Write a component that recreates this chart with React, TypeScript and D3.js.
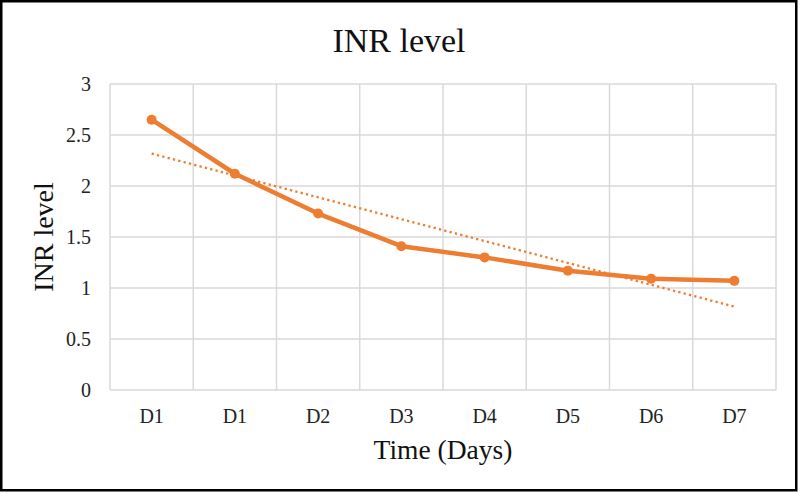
import React, { useRef, useEffect } from "react";
import * as d3 from "d3";

const days = ["D1", "D1", "D2", "D3", "D4", "D5", "D6", "D7"];
const inrValues = [2.65, 2.12, 1.73, 1.41, 1.3, 1.17, 1.09, 1.07];
const yTicks = [0, 0.5, 1, 1.5, 2, 2.5, 3];

const App = () => {
  const chartRef = useRef<HTMLDivElement>(null);

  useEffect(() => {
    const width = 800;
    const height = 493;
    const margin = { top: 84, right: 24, bottom: 103, left: 110 };
    const innerW = width - margin.left - margin.right;
    const innerH = height - margin.top - margin.bottom;
    const font = '"Liberation Serif", "Times New Roman", serif';

    const svg = d3
      .select(chartRef.current)
      .append("svg")
      .attr("width", width)
      .attr("height", height)
      .style("position", "absolute")
      .style("left", "0px")
      .style("top", "0px")
      .style("background", "#fff");

    // outer frame
    svg
      .append("rect")
      .attr("x", 1.25)
      .attr("y", 1.25)
      .attr("width", 795)
      .attr("height", 489)
      .attr("fill", "#fff")
      .attr("stroke", "#000")
      .attr("stroke-width", 2.5);

    const g = svg
      .append("g")
      .attr("transform", `translate(${margin.left},${margin.top})`);

    const x = d3
      .scaleBand<number>()
      .domain(days.map((_, i) => i))
      .range([0, innerW]);

    const y = d3.scaleLinear().domain([0, 3]).range([innerH, 0]);

    // horizontal grid
    g.selectAll(".hgrid")
      .data(yTicks)
      .enter()
      .append("line")
      .attr("x1", 0)
      .attr("x2", innerW)
      .attr("y1", (d) => y(d))
      .attr("y2", (d) => y(d))
      .attr("stroke", "#d9d9d9")
      .attr("stroke-width", 1.5);

    // vertical grid (category boundaries)
    const bounds = d3.range(days.length + 1).map((i) => i * x.step());
    g.selectAll(".vgrid")
      .data(bounds)
      .enter()
      .append("line")
      .attr("x1", (d) => d)
      .attr("x2", (d) => d)
      .attr("y1", 0)
      .attr("y2", innerH)
      .attr("stroke", "#d9d9d9")
      .attr("stroke-width", 1.5);

    // y tick labels
    g.selectAll(".ylab")
      .data(yTicks)
      .enter()
      .append("text")
      .attr("x", -19)
      .attr("y", (d) => y(d))
      .attr("dy", "0.35em")
      .attr("text-anchor", "end")
      .style("font-family", font)
      .style("font-size", "20px")
      .attr("fill", "#222")
      .text((d) => d);

    // x tick labels
    g.selectAll(".xlab")
      .data(days)
      .enter()
      .append("text")
      .attr("x", (_, i) => x(i)! + x.bandwidth() / 2)
      .attr("y", innerH + 33)
      .attr("text-anchor", "middle")
      .style("font-family", font)
      .style("font-size", "20px")
      .attr("fill", "#222")
      .text((d) => d);

    const cx = (i: number) => x(i)! + x.bandwidth() / 2;

    // linear trendline (least squares over category index)
    const n = inrValues.length;
    const xs = d3.range(n);
    const mx = d3.mean(xs)!;
    const my = d3.mean(inrValues)!;
    const slope =
      d3.sum(xs, (i) => (i - mx) * (inrValues[i] - my)) /
      d3.sum(xs, (i) => (i - mx) * (i - mx));
    const icpt = my - slope * mx;
    const trend = [0, n - 1].map((i) => ({ i, v: icpt + slope * i }));

    g.append("path")
      .datum(trend)
      .attr(
        "d",
        d3
          .line<{ i: number; v: number }>()
          .x((d) => cx(d.i))
          .y((d) => y(d.v))
      )
      .attr("fill", "none")
      .attr("stroke", "#ed7d31")
      .attr("stroke-width", 2.3)
      .attr("stroke-dasharray", "2.3,3.2");

    // main line
    g.append("path")
      .datum(inrValues)
      .attr(
        "d",
        d3
          .line<number>()
          .x((_, i) => cx(i))
          .y((d) => y(d))
      )
      .attr("fill", "none")
      .attr("stroke", "#ed7d31")
      .attr("stroke-width", 4.5)
      .attr("stroke-linejoin", "round");

    g.selectAll(".dot")
      .data(inrValues)
      .enter()
      .append("circle")
      .attr("cx", (_, i) => cx(i))
      .attr("cy", (d) => y(d))
      .attr("r", 5)
      .attr("fill", "#ed7d31");

    // title
    svg
      .append("text")
      .attr("x", 399)
      .attr("y", 52)
      .attr("text-anchor", "middle")
      .style("font-family", font)
      .style("font-size", "34px")
      .attr("fill", "#111")
      .text("INR level");

    // x axis title
    svg
      .append("text")
      .attr("x", margin.left + innerW / 2)
      .attr("y", 459)
      .attr("text-anchor", "middle")
      .style("font-family", font)
      .style("font-size", "27.5px")
      .attr("fill", "#111")
      .text("Time (Days)");

    // y axis title
    svg
      .append("text")
      .attr(
        "transform",
        `translate(53,${margin.top + innerH / 2}) rotate(-90)`
      )
      .attr("text-anchor", "middle")
      .style("font-family", font)
      .style("font-size", "28px")
      .attr("fill", "#111")
      .text("INR level");

    return () => {
      if (chartRef.current) chartRef.current.innerHTML = "";
    };
  }, []);

  return <div ref={chartRef}></div>;
};

export default App;
